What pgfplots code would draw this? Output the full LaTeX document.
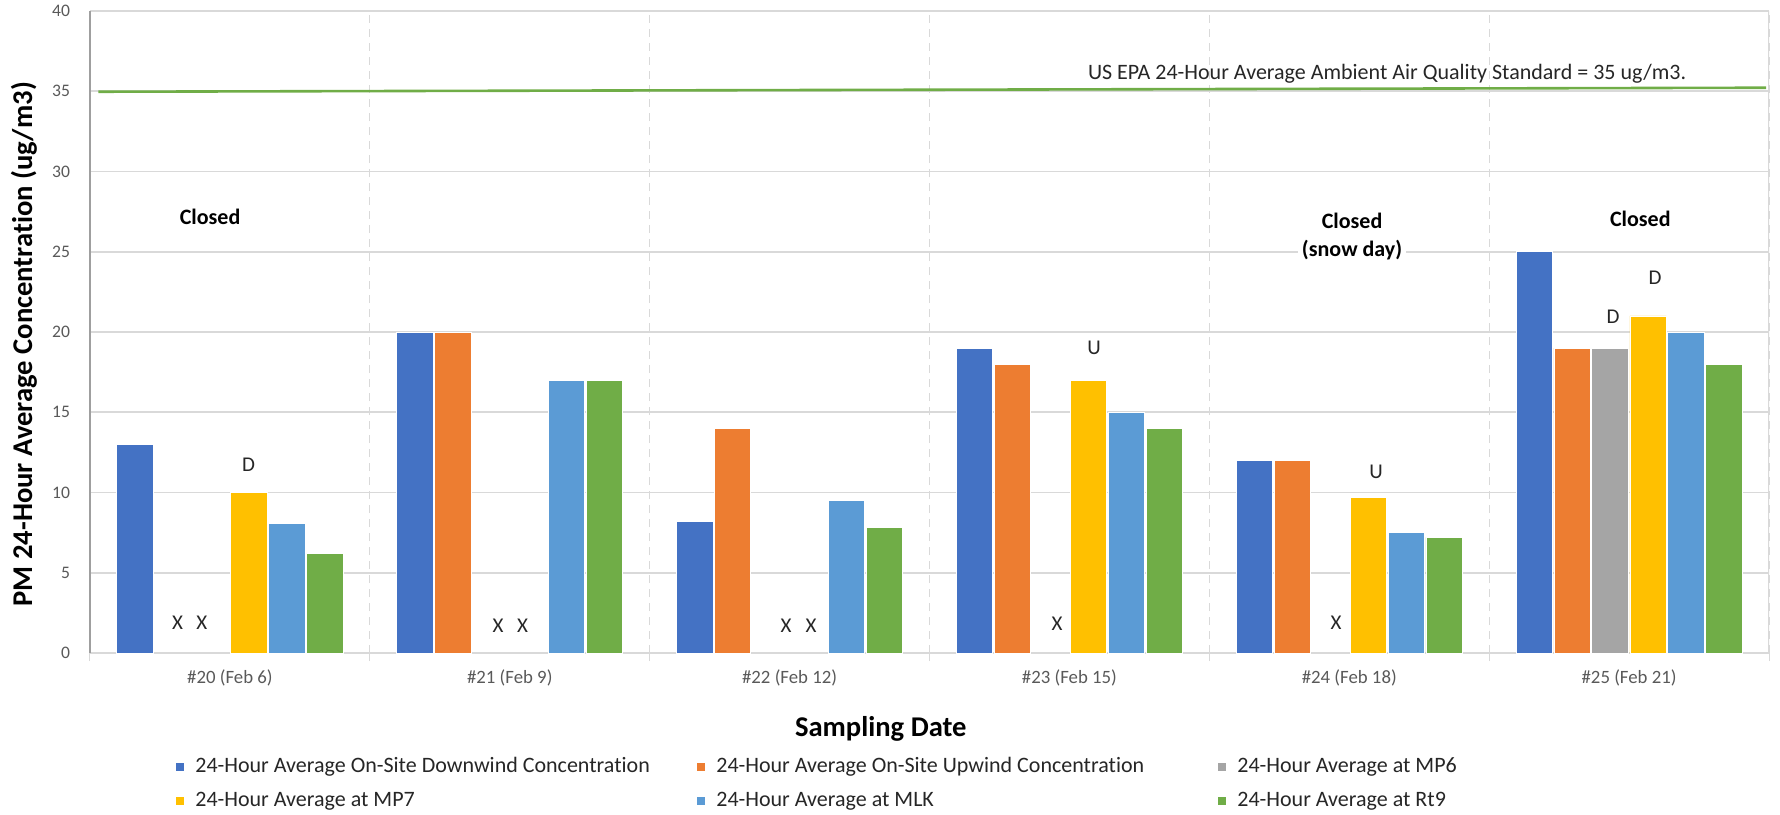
\documentclass[border=0pt]{standalone}
\usepackage{fontspec}
\setmainfont{Carlito}[Ligatures=NoCommon]
\usepackage{pgfplots}
\pgfplotsset{compat=1.18}

\definecolor{cDown}{HTML}{4472C4}
\definecolor{cUp}{HTML}{ED7D31}
\definecolor{cMPsix}{HTML}{A5A5A5}
\definecolor{cMPseven}{HTML}{FFC000}
\definecolor{cMLK}{HTML}{5B9BD5}
\definecolor{cRt}{HTML}{70AD47}
\definecolor{gridc}{HTML}{D9D9D9}
\definecolor{txt}{HTML}{595959}

\begin{document}
\begin{tikzpicture}
\useasboundingbox (-45pt,-80.5pt) rectangle (845pt,326.5pt);
\begin{axis}[
  at={(0,0)}, anchor=south west,
  scale only axis, width=839.5pt, height=321pt,
  xmin=-0.5, xmax=5.5, ymin=0, ymax=40,
  ybar, bar width=0.13,
  legend image code/.code={\fill[#1,draw=none] (0pt,-1.9pt) rectangle (3.8pt,1.9pt);},
  axis x line*=bottom, axis y line*=left,
  x axis line style={draw=gridc, line width=0.8pt},
  y axis line style={draw=gray!75, line width=0.8pt},
  xtick={0,...,5},
  xticklabels={\#20 (Feb 6),\#21 (Feb 9),\#22 (Feb 12),\#23 (Feb 15),\#24 (Feb 18),\#25 (Feb 21)},
  major tick length=0pt,
  minor xtick={-0.5,0.5,...,5.5},
  minor tick length=4pt,
  tick align=outside,
  minor tick style={draw=gridc, line width=0.5pt, dash pattern=on 4pt off 3pt},
  xminorgrids,
  minor x grid style={draw=gridc, line width=0.5pt, dash pattern=on 4pt off 3pt},
  ytick={0,5,...,40},
  ymajorgrids,
  major y grid style={draw=gridc, line width=0.8pt},
  /pgf/number format/assume math mode=true,
  xticklabel style={font=\fontsize{9.4}{11}\selectfont, text=txt, anchor=center, yshift=-12.5pt},
  yticklabel style={font=\fontsize{8.8}{10}\selectfont, text=txt, anchor=east, inner sep=0pt, xshift=-9.8pt},
  xlabel={Sampling Date},
  xlabel style={font=\fontsize{14.3}{16}\selectfont\bfseries, at={(axis description cs:0.471,-0.1184)}, anchor=center},
  ylabel={PM 24-Hour Average Concentration (ug/m3)},
  ylabel style={font=\fontsize{14.3}{16}\selectfont\bfseries, at={(axis description cs:-0.0393,0.481)}, anchor=center},
  legend columns=3,
  legend cell align=left,
  legend style={at={(axis description cs:0.0512,-0.1623)}, anchor=north west,
    draw=none, fill=none, inner sep=0pt, row sep=8.2pt,
    font=\fontsize{11}{13}\selectfont, text=black!85,
    nodes={inner sep=0pt},
    /tikz/every odd column/.append style={column sep=5.7pt}},
]
% on-site downwind
\addplot[fill=cDown, draw=white, line width=0.4pt, bar shift=-0.339]
  coordinates {(0,13) (1,20) (2,8.2) (3,19) (4,12) (5,25)};
\addlegendentry{\makebox[251pt][l]{24-Hour Average On-Site Downwind Concentration}}
% on-site upwind
\addplot[fill=cUp, draw=white, line width=0.4pt, bar shift=-0.2035]
  coordinates {(1,20) (2,14) (3,18) (4,12) (5,19)};
\addlegendentry{\makebox[251pt][l]{24-Hour Average On-Site Upwind Concentration}}
% MP6
\addplot[fill=cMPsix, draw=white, line width=0.4pt, bar shift=-0.068]
  coordinates {(5,19)};
\addlegendentry{24-Hour Average at MP6}
% MP7
\addplot[fill=cMPseven, draw=white, line width=0.4pt, bar shift=0.068]
  coordinates {(0,10) (3,17) (4,9.7) (5,21)};
\addlegendentry{\makebox[251pt][l]{24-Hour Average at MP7}}
% MLK
\addplot[fill=cMLK, draw=white, line width=0.4pt, bar shift=0.2035]
  coordinates {(0,8.1) (1,17) (2,9.5) (3,15) (4,7.5) (5,20)};
\addlegendentry{\makebox[251pt][l]{24-Hour Average at MLK}}
% Rt9
\addplot[fill=cRt, draw=white, line width=0.4pt, bar shift=0.339]
  coordinates {(0,6.2) (1,17) (2,7.8) (3,14) (4,7.2) (5,18)};
\addlegendentry{24-Hour Average at Rt9}

% EPA 24-hour standard
\addplot[sharp plot, no marks, draw=cRt, line width=1.3pt, forget plot]
  coordinates {(-0.47,34.97) (5.49,35.22)};

% right frame
\draw[gridc, line width=0.8pt] (axis cs:5.5,0) -- (axis cs:5.5,40);

\node[font=\fontsize{11}{13}\selectfont, text=black!85] at (axis cs:4.135,36.06)
  {US EPA 24-Hour Average Ambient Air Quality Standard = 35 ug/m3.};

% site status
\node[font=\fontsize{11}{13}\selectfont\bfseries] at (axis cs:-0.071,27.2) {Closed};
\node[font=\fontsize{11}{13}\selectfont\bfseries, fill=white, align=center, inner sep=2pt]
  at (axis cs:4.01,25.95) {Closed\\[1pt](snow day)};
\node[font=\fontsize{11}{13}\selectfont\bfseries] at (axis cs:5.04,27.05) {Closed};

% data flags
\begin{scope}[every node/.style={font=\fontsize{10.5}{12}\selectfont, text=black!85}]
\node at (axis cs:0.067,11.71) {D};
\node at (axis cs:3.088,19.0) {U};
\node at (axis cs:4.096,11.27) {U};
\node at (axis cs:4.943,20.95) {D};
\node at (axis cs:5.093,23.4) {D};
\node at (axis cs:-0.187,1.87) {X};
\node at (axis cs:-0.100,1.87) {X};
\node at (axis cs:0.958,1.68) {X};
\node at (axis cs:1.046,1.68) {X};
\node at (axis cs:1.987,1.68) {X};
\node at (axis cs:2.077,1.68) {X};
\node at (axis cs:2.956,1.8) {X};
\node at (axis cs:3.953,1.87) {X};
\end{scope}
\end{axis}
\end{tikzpicture}
\end{document}
